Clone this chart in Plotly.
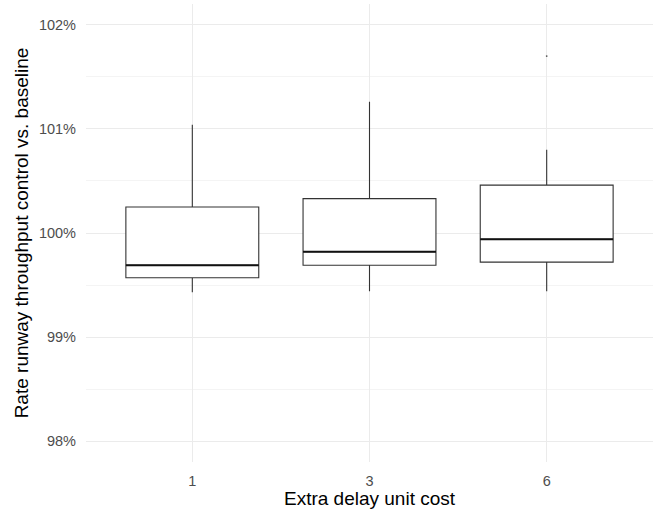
import plotly.graph_objects as go

categories = ["1", "3", "6"]
lower_whisker = [0.9943, 0.9944, 0.9944]
q1 = [0.9957, 0.9969, 0.9972]
median = [0.9969, 0.9982, 0.9994]
q3 = [1.0025, 1.0033, 1.0046]
upper_whisker = [1.0104, 1.0126, 1.0080]
outlier_cat = ["6"]
outlier_val = [1.0170]

xpos = list(range(len(categories)))
box_w = 0.75

fig = go.Figure()
fig.add_trace(go.Box(
    x=xpos, q1=q1, median=median, q3=q3,
    lowerfence=lower_whisker, upperfence=upper_whisker,
    width=box_w, fillcolor="rgba(255,255,255,1)",
    line=dict(color="#333333", width=1.1), whiskerwidth=0,
    boxpoints=False, showlegend=False, hoverinfo="skip",
))
# thicker median line (ggplot fatten)
mx, my = [], []
for i, m in zip(xpos, median):
    mx += [i - box_w / 2, i + box_w / 2, None]
    my += [m, m, None]
fig.add_trace(go.Scatter(x=mx, y=my, mode="lines",
                         line=dict(color="#111111", width=2),
                         showlegend=False, hoverinfo="skip"))
ox = [categories.index(c) for c in outlier_cat]
fig.add_trace(go.Scatter(x=ox, y=outlier_val, mode="markers",
                         marker=dict(color="#555555", size=1.8),
                         showlegend=False, hoverinfo="skip"))

fig.update_layout(
    width=662, height=511,
    margin=dict(l=86, r=9, t=4, b=49),
    paper_bgcolor="white", plot_bgcolor="white",
    font=dict(family="Liberation Sans, Arial, sans-serif"),
    xaxis=dict(
        range=[-0.6, 2.6], tickvals=xpos, ticktext=categories,
        showgrid=True, gridcolor="#EBEBEB", gridwidth=1, zeroline=False,
        showline=False, ticks="", ticklabelstandoff=8,
        tickfont=dict(size=14.5, color="#4D4D4D"),
        title=dict(text="Extra delay unit cost", font=dict(size=19, color="black"), standoff=4),
    ),
    yaxis=dict(
        range=[0.978, 1.022], tick0=1.0, dtick=0.01, tickformat=".0%",
        showgrid=True, gridcolor="#EBEBEB", gridwidth=1, zeroline=False,
        showline=False, ticks="", ticklabelstandoff=9,
        tickfont=dict(size=14.5, color="#4D4D4D"),
        minor=dict(dtick=0.005, showgrid=True, gridcolor="#F4F4F4", gridwidth=1),
        title=dict(text="Rate runway throughput control vs. baseline",
                   font=dict(size=19, color="black"), standoff=5),
    ),
)
fig.write_html("out.html")
